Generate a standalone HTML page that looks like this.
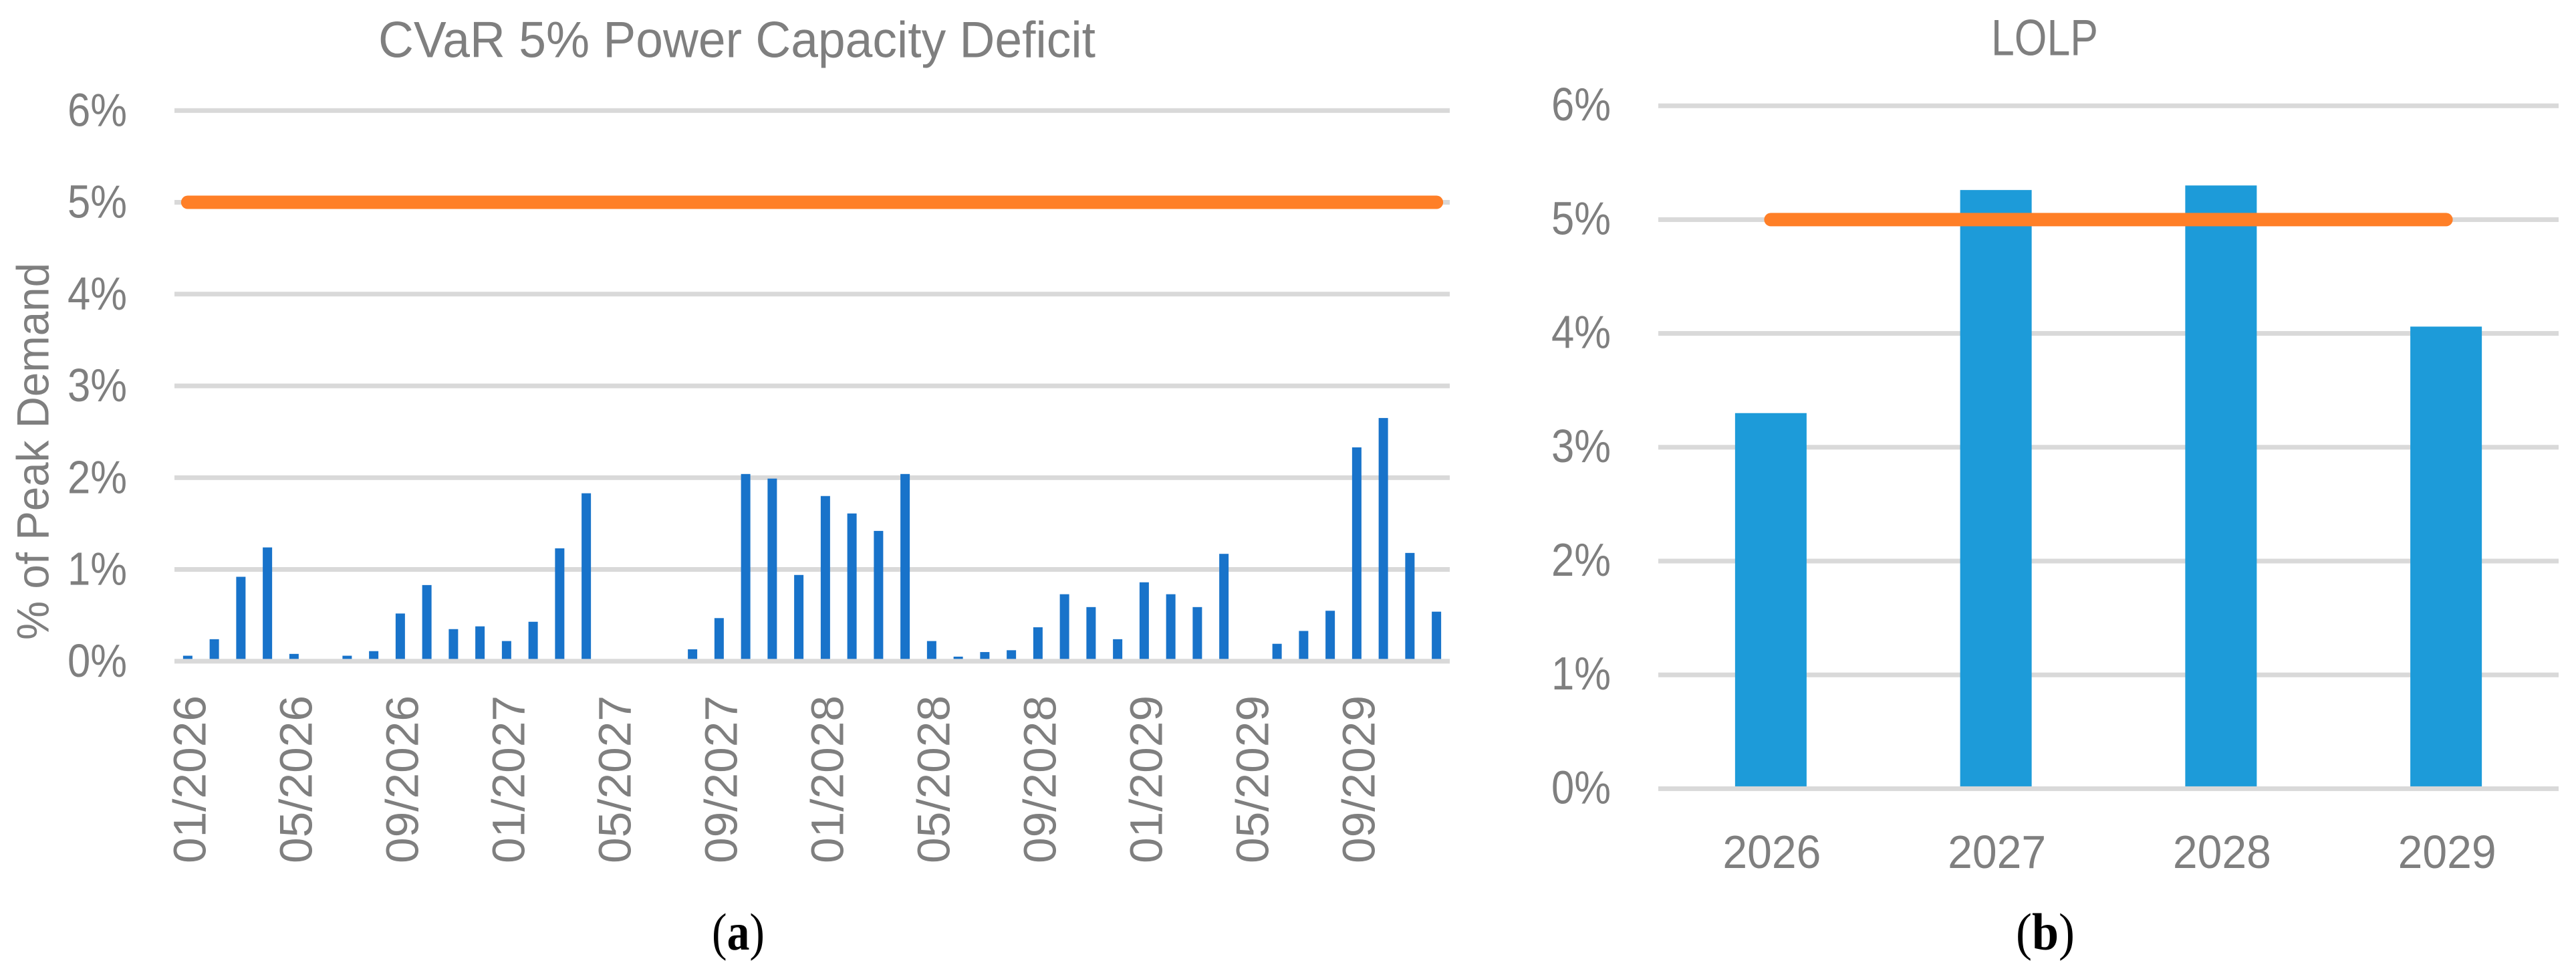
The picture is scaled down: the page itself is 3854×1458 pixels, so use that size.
<!DOCTYPE html>
<html lang="en">
<head>
<meta charset="utf-8">
<title>CVaR 5% Power Capacity Deficit and LOLP</title>
<style>
html,body{margin:0;padding:0;background:#fff;width:3854px;height:1458px;overflow:hidden}
svg{display:block}
text{font-family:"Liberation Sans",sans-serif;fill:#7f7f7f}
.cap{font-family:"Liberation Serif",serif;fill:#000;font-size:78px}
</style>
</head>
<body>
<svg id="figure" xmlns="http://www.w3.org/2000/svg" width="3854" height="1458" viewBox="0 0 3854 1458">
  <rect x="0" y="0" width="3854" height="1458" fill="#ffffff"/>
  <g id="chartA">
    <text x="566" y="85.5" font-size="76" textLength="1073" lengthAdjust="spacingAndGlyphs">CVaR 5% Power Capacity Deficit</text>
    <text transform="translate(72.5,957) rotate(-90)" font-size="68" textLength="564" lengthAdjust="spacingAndGlyphs">% of Peak Demand</text>
  </g>
  <g id="chartB">
    <text x="2979" y="82.5" font-size="76" textLength="160" lengthAdjust="spacingAndGlyphs">LOLP</text>
  </g>
  <text class="cap" x="1065" y="1420" textLength="79" lengthAdjust="spacingAndGlyphs">(<tspan font-weight="bold">a</tspan>)</text>
  <text class="cap" x="3016" y="1420" textLength="88" lengthAdjust="spacingAndGlyphs">(<tspan font-weight="bold">b</tspan>)</text>
</svg>
<script>
const yTickValues = [0, 1, 2, 3, 4, 5, 6];
const yTickLabels = ["0%", "1%", "2%", "3%", "4%", "5%", "6%"];

const monthCategories = [
  "01/2026","02/2026","03/2026","04/2026","05/2026","06/2026","07/2026","08/2026","09/2026","10/2026","11/2026","12/2026",
  "01/2027","02/2027","03/2027","04/2027","05/2027","06/2027","07/2027","08/2027","09/2027","10/2027","11/2027","12/2027",
  "01/2028","02/2028","03/2028","04/2028","05/2028","06/2028","07/2028","08/2028","09/2028","10/2028","11/2028","12/2028",
  "01/2029","02/2029","03/2029","04/2029","05/2029","06/2029","07/2029","08/2029","09/2029","10/2029","11/2029","12/2029"
];
const cvarValues = [
  0.06, 0.24, 0.92, 1.24, 0.08, 0, 0.06, 0.11, 0.52, 0.83, 0.35, 0.38,
  0.22, 0.43, 1.23, 1.83, 0, 0, 0, 0.13, 0.47, 2.04, 1.99, 0.94,
  1.80, 1.61, 1.42, 2.04, 0.22, 0.05, 0.10, 0.12, 0.37, 0.73, 0.59, 0.24,
  0.86, 0.73, 0.59, 1.17, 0, 0.19, 0.33, 0.55, 2.33, 2.65, 1.18, 0.54
];
const cvarLimit = [
  5,5,5,5,5,5,5,5,5,5,5,5,
  5,5,5,5,5,5,5,5,5,5,5,5,
  5,5,5,5,5,5,5,5,5,5,5,5,
  5,5,5,5,5,5,5,5,5,5,5,5
];
const monthTickLabels = ["01/2026","05/2026","09/2026","01/2027","05/2027","09/2027","01/2028","05/2028","09/2028","01/2029","05/2029","09/2029"];

const yearCategories = ["2026", "2027", "2028", "2029"];
const lolpValues = [3.30, 5.26, 5.30, 4.06];
const lolpLimit = [5, 5, 5, 5];

const NS = "http://www.w3.org/2000/svg";
const gridColor = "#d9d9d9";
const orange = "#ff7f27";

function node(parent, tag, props) {
  const el = document.createElementNS(NS, tag);
  for (const k in props) el.setAttribute(k, props[k]);
  parent.appendChild(el);
  return el;
}

// Panel (a) axis functions
const ax = { left: 261, right: 2169, zero: 988.8, unit: 137.25, barW: 14 };
function xA(i) { return ax.left + (ax.right - ax.left) / monthCategories.length * (i + 0.5); }
function yA(v) { return ax.zero - ax.unit * v; }

// Panel (b) axis functions
const bx = { left: 2481, right: 3828, zero: 1179.4, unit: 170.2, barW: 107 };
function xB(i) { return bx.left + (bx.right - bx.left) / yearCategories.length * (i + 0.5); }
function yB(v) { return bx.zero - bx.unit * v; }

const gA = document.getElementById("chartA");
const gB = document.getElementById("chartB");

// Gridlines + y ticks, panel (a)
yTickValues.forEach(function (v, i) {
  if (v === 0) return;
  const line = node(gA, "rect", { x: ax.left, y: yA(v) - 3.5, width: ax.right - ax.left, height: 7, fill: gridColor });
  
  
});
yTickValues.forEach(function (v, i) {
  const t = node(gA, "text", { x: 101, y: yA(v) + 23, "font-size": 70, textLength: 89, lengthAdjust: "spacingAndGlyphs" });
  t.textContent = yTickLabels[i];
  
  
});

// Bars, panel (a)
cvarValues.forEach(function (v, i) {
  const b = node(gA, "rect", { x: xA(i) - ax.barW / 2, y: yA(v), width: ax.barW, height: Math.max(0, yA(0) - yA(v)), fill: "#1873ca" });
  
  
});
const axisA = node(gA, "rect", { x: ax.left, y: yA(0) - 3.5, width: ax.right - ax.left, height: 7, fill: gridColor });



// Limit line, panel (a)
const lineA = node(gA, "polyline", {
  points: cvarLimit.map(function (v, i) { return xA(i) + "," + yA(v); }).join(" "),
  fill: "none", stroke: orange, "stroke-width": 20, "stroke-linecap": "round", "stroke-linejoin": "round"
});



// X tick labels, panel (a)
monthTickLabels.forEach(function (label) {
  const i = monthCategories.indexOf(label);
  const t = node(gA, "text", { transform: "translate(" + (xA(i) + 26.5) + ",1291) rotate(-90)", "font-size": 69, textLength: 251, lengthAdjust: "spacingAndGlyphs" });
  t.textContent = label;
  
  
});

// Gridlines + y ticks, panel (b)
yTickValues.forEach(function (v) {
  if (v === 0) return;
  const line = node(gB, "rect", { x: bx.left, y: yB(v) - 3.5, width: bx.right - bx.left, height: 7, fill: gridColor });
  
  
});
yTickValues.forEach(function (v, i) {
  const t = node(gB, "text", { x: 2321, y: yB(v) + 22, "font-size": 70, textLength: 89, lengthAdjust: "spacingAndGlyphs" });
  t.textContent = yTickLabels[i];
  
  
});

// Bars, panel (b)
lolpValues.forEach(function (v, i) {
  const b = node(gB, "rect", { x: xB(i) - bx.barW / 2, y: yB(v), width: bx.barW, height: yB(0) - yB(v), fill: "#1d9bd9" });
  
  
});
const axisB = node(gB, "rect", { x: bx.left, y: yB(0) - 3.5, width: bx.right - bx.left, height: 7, fill: gridColor });



// Limit line, panel (b)
const lineB = node(gB, "polyline", {
  points: lolpLimit.map(function (v, i) { return xB(i) + "," + yB(v); }).join(" "),
  fill: "none", stroke: orange, "stroke-width": 20, "stroke-linecap": "round", "stroke-linejoin": "round"
});



// X tick labels, panel (b)
yearCategories.forEach(function (label, i) {
  const t = node(gB, "text", { x: xB(i) - 72, y: 1298, "font-size": 70, textLength: 147, lengthAdjust: "spacingAndGlyphs" });
  t.textContent = label;
  
  
});
</script>
</body>
</html>
